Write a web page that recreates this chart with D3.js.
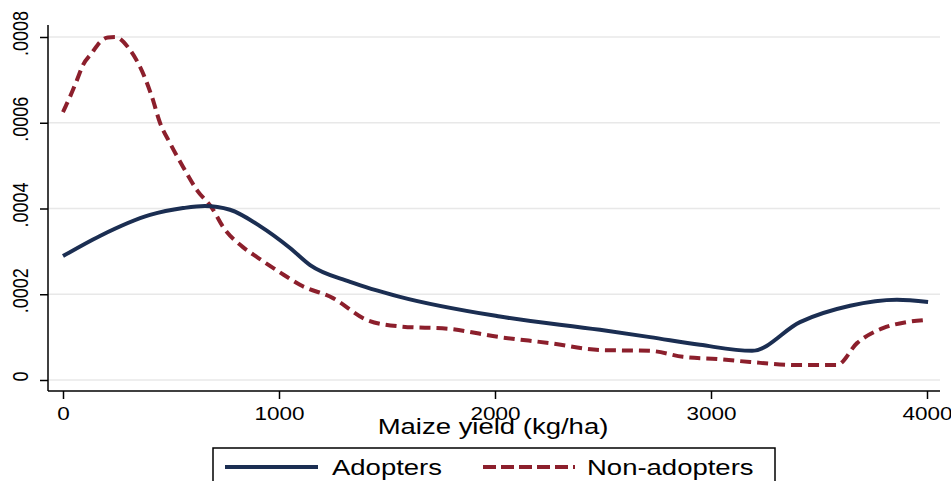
<!DOCTYPE html>
<html>
<head>
<meta charset="utf-8">
<script src="https://cdn.jsdelivr.net/npm/d3@7"></script>
<style>
  body { margin: 0; background: #fff; }
  svg { display: block; font-family: "Liberation Sans", Arial, sans-serif; }
</style>
</head>
<body>
<svg width="951" height="481"></svg>
<script>
// kernel density, maize yield (kg/ha)
var adoptYield = [0, 171, 403, 556, 657, 773, 912, 1051, 1144, 1329, 1560, 2023, 2486, 2718, 2949, 3190, 3412, 3644, 3861, 4005];
var adoptDens  = [.000289, .000336, .000385, .000401, .000406, .000397, .000359, .000308, .000268, .000229, .000194, .000148, .000117, .0001, .000082, .000068, .000135, .000173, .000187, .000182];

var nonYield = [0, 32, 65, 93, 134, 171, 208, 241, 310, 380, 412, 449, 495, 556, 620, 690, 741, 833, 903, 1023, 1097, 1250, 1407, 1560, 1792, 2023, 2255, 2486, 2718, 2870, 3028, 3181, 3398, 3583, 3676, 3796, 3907, 3991];
var nonDens  = [.000625, .00066, .0007, .000735, .000763, .000788, .000799, .0008, .00077, .000704, .00066, .0006, .000553, .000497, .000443, .000401, .000357, .00031, .000285, .000245, .000222, .000191, .00014, .000125, .000119, .0001, .000086, .00007, .000068, .000054, .000049, .000042, .000035, .000035, .000086, .000121, .000135, .00014];

var xTicks = [0, 1000, 2000, 3000, 4000];
var yTicks = [0, .0002, .0004, .0006, .0008];
var yLabels = ["0", ".0002", ".0004", ".0006", ".0008"];

var svg = d3.select("svg");
var left = 48, right = 940, axisY = 391;
var stretch = 1.25; // the picture is wider than tall, text too

var x = d3.scaleLinear().domain([0, 4000]).range([63, 927]);
var y = d3.scaleLinear().domain([0, .0008]).range([380, 37]);

// gridlines
svg.append("g").selectAll("line")
    .data(yTicks)
  .enter().append("line")
    .attr("x1", left).attr("x2", right)
    .attr("y1", d => y(d)).attr("y2", d => y(d))
    .attr("stroke", "#e8e8e8").attr("stroke-width", 1.5);

// y axis
var yAxis = svg.append("g")
    .attr("transform", "translate(" + left + ",0)")
    .call(d3.axisLeft(y).tickValues(yTicks).tickSize(8).tickFormat((d, i) => yLabels[i]));
yAxis.select(".domain").attr("d", "M0,25V" + axisY).attr("stroke", "#000").attr("stroke-width", 1.5);
yAxis.selectAll(".tick line").attr("stroke", "#000").attr("stroke-width", 1.5);
yAxis.selectAll(".tick text")
    .attr("font-size", 18).attr("fill", "#000")
    .attr("text-anchor", "middle")
    .attr("x", 4).attr("y", 0)
    .attr("dy", "0.35em")
    .attr("transform", "translate(-27.5,0) scale(" + stretch + ",1) rotate(-90)");

// x axis
var xAxis = svg.append("g")
    .attr("transform", "translate(0," + axisY + ")")
    .call(d3.axisBottom(x).tickValues(xTicks).tickSize(8).tickFormat(d3.format("d")));
xAxis.select(".domain").attr("d", "M" + left + ",0H" + right).attr("stroke", "#000").attr("stroke-width", 1.5);
xAxis.selectAll(".tick line").attr("stroke", "#000").attr("stroke-width", 1.5);
xAxis.selectAll(".tick text")
    .attr("font-size", 18).attr("fill", "#000")
    .attr("y", 16)
    .attr("transform", "scale(" + stretch + ",1)");

svg.append("text")
    .attr("transform", "translate(493,434) scale(" + stretch + ",1)")
    .attr("text-anchor", "middle")
    .attr("font-size", 22)
    .text("Maize yield (kg/ha)");

// density lines
var line = d3.line()
    .x(d => x(d[0]))
    .y(d => y(d[1]))
    .curve(d3.curveMonotoneX);

var navy = "#1b2e52", maroon = "#8c1f2c";

svg.append("path")
    .datum(nonYield.map((v, i) => [v, nonDens[i]]))
    .attr("d", line)
    .attr("fill", "none")
    .attr("stroke", maroon)
    .attr("stroke-width", 4)
    .attr("stroke-dasharray", "11,6");

svg.append("path")
    .datum(adoptYield.map((v, i) => [v, adoptDens[i]]))
    .attr("d", line)
    .attr("fill", "none")
    .attr("stroke", navy)
    .attr("stroke-width", 4);

// legend
var legend = svg.append("g");
legend.append("rect")
    .attr("x", 213).attr("y", 448)
    .attr("width", 562).attr("height", 45)
    .attr("fill", "#fff").attr("stroke", "#000").attr("stroke-width", 1.5);

var items = [
  {label: "Adopters", color: navy, dash: null, x1: 225, x2: 318, tx: 332},
  {label: "Non-adopters", color: maroon, dash: "13,5", x1: 483, x2: 575, tx: 587}
];
items.forEach(function(it) {
  legend.append("line")
      .attr("x1", it.x1).attr("x2", it.x2)
      .attr("y1", 467).attr("y2", 467)
      .attr("stroke", it.color).attr("stroke-width", 4)
      .attr("stroke-dasharray", it.dash);
  legend.append("text")
      .attr("transform", "translate(" + it.tx + ",475) scale(" + stretch + ",1)")
      .attr("font-size", 22)
      .text(it.label);
});
</script>
</body>
</html>
